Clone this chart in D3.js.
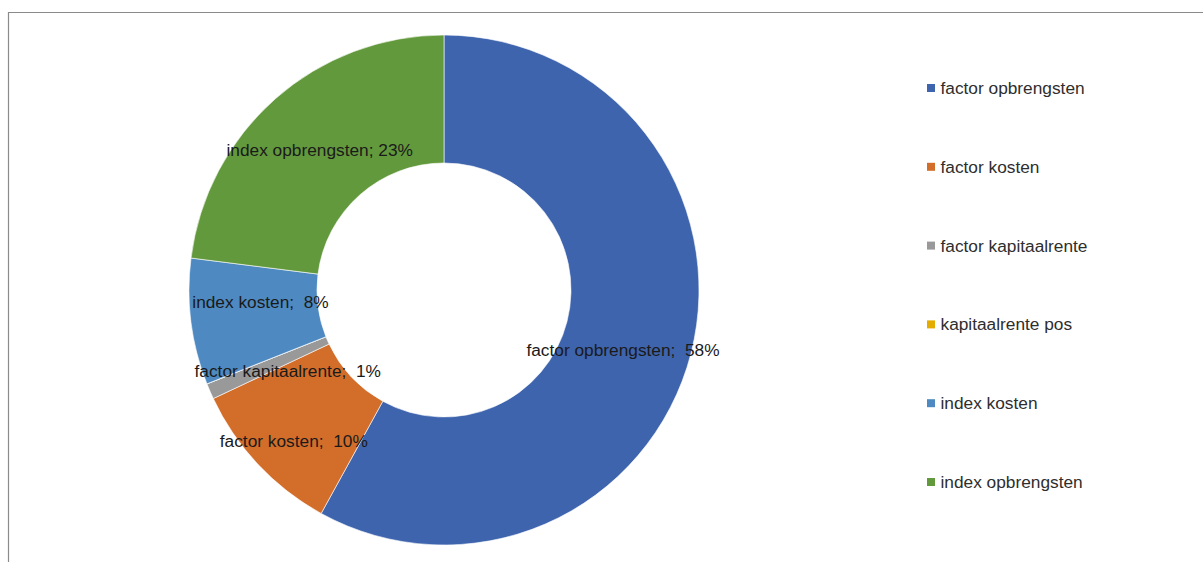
<!DOCTYPE html>
<html>
<head>
<meta charset="utf-8">
<script src="https://cdn.jsdelivr.net/npm/d3@7"></script>
<style>
  html, body { margin: 0; padding: 0; background: #fff; }
  svg { display: block; }
  text { font-family: "Liberation Sans", Arial, sans-serif; }
</style>
</head>
<body>
<svg id="chart" width="1203" height="562"></svg>
<script>
// Share of each component (percent), drawn clockwise from 12 o'clock
const categories = ["factor opbrengsten", "factor kosten", "factor kapitaalrente",
                    "kapitaalrente pos", "index kosten", "index opbrengsten"];
const values = [58, 10, 1, 0, 8, 23];
const colors = ["#3e64ad", "#d36e2a", "#999999", "#e5ac00", "#4e8ac1", "#63993d"];
// Separators between label text and value (Excel-style "; ")
const labelSeparators = [";  ", ";  ", ";  ", ";  ", ";  ", "; "];
// Small nudges so neighbouring slice labels don't collide
const labelNudges = [[-6, 12], [-11, 20], [19, 5], [0, 0], [6, -12], [2, 3]];

const width = 1203, height = 562;
const cx = 444, cy = 290, rOuter = 255, rInner = 127;
const fontSize = 17.3;

const svg = d3.select("#chart");

// Plot-area frame (left and top edges visible)
svg.append("path")
  .attr("d", `M8.5,${height} V12.5 H${width}`)
  .attr("fill", "none")
  .attr("stroke", "#8a8a8a")
  .attr("stroke-width", 1.2);

const data = categories.map((c, i) => ({ name: c, value: values[i], color: colors[i], i }));

const pie = d3.pie().value(d => d.value).sort(null);
const arcs = pie(data);
const arc = d3.arc().innerRadius(rInner).outerRadius(rOuter);
const mid = d3.arc().innerRadius((rInner + rOuter) / 2).outerRadius((rInner + rOuter) / 2);

const g = svg.append("g").attr("transform", `translate(${cx},${cy})`);

g.selectAll("path.slice")
  .data(arcs)
  .join("path")
  .attr("class", "slice")
  .attr("d", arc)
  .attr("fill", d => d.data.color)
  .attr("stroke", "#ffffff")
  .attr("stroke-width", 0.6);

// Data labels: "name; value%"
g.selectAll("text.lbl")
  .data(arcs.filter(d => d.data.value > 0))
  .join("text")
  .attr("class", "lbl")
  .attr("x", d => mid.centroid(d)[0] + labelNudges[d.data.i][0])
  .attr("y", d => mid.centroid(d)[1] + labelNudges[d.data.i][1])
  .attr("dy", "0.35em")
  .attr("text-anchor", "middle")
  .attr("font-size", fontSize)
  .attr("fill", "#1a1a1a")
  .style("white-space", "pre")
  .text(d => `${d.data.name}${labelSeparators[d.data.i]}${d3.format(".0f")(d.data.value)}%`);

// Legend
const legendY = d3.scalePoint().domain(categories).range([88, 482]);
const legend = svg.append("g");
const item = legend.selectAll("g")
  .data(data)
  .join("g")
  .attr("transform", d => `translate(927,${legendY(d.name)})`);
item.append("rect")
  .attr("x", 0).attr("y", -4)
  .attr("width", 8).attr("height", 8)
  .attr("fill", d => d.color);
item.append("text")
  .attr("x", 13.5)
  .attr("dy", "0.35em")
  .attr("font-size", fontSize)
  .attr("fill", "#2e2e2e")
  .text(d => d.name);
</script>
</body>
</html>
